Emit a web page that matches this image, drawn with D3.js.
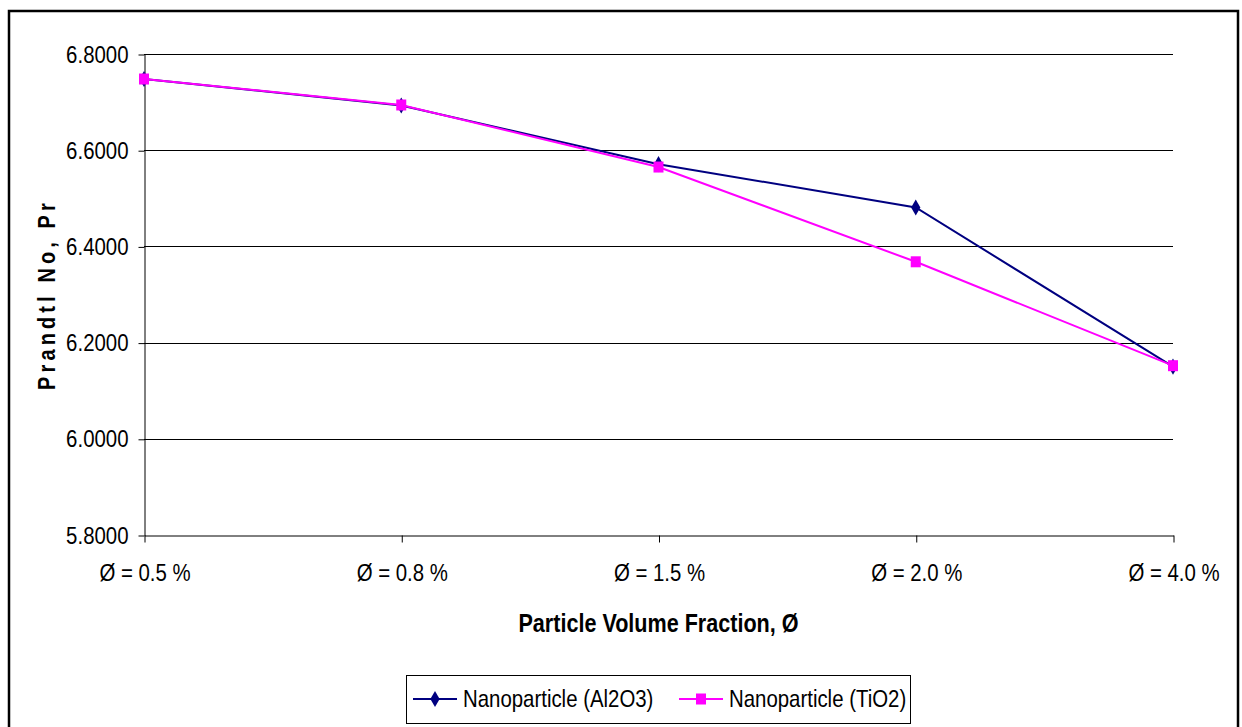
<!DOCTYPE html>
<html>
<head>
<meta charset="utf-8">
<script src="https://cdn.jsdelivr.net/npm/d3@7"></script>
<style>
	body { margin: 0; background: #fff; }
	svg { display: block; }
	text { font-family: "Liberation Sans Narrow", "Arial Narrow", "Liberation Sans", Arial, sans-serif; fill: #000; }
</style>
</head>
<body>
<svg id="chart" width="1242" height="727"></svg>
<script>
// Values
const categories = ["Ø = 0.5 %", "Ø = 0.8 %", "Ø = 1.5 %", "Ø = 2.0 %", "Ø = 4.0 %"];
const al2o3 = [6.748, 6.693, 6.571, 6.481, 6.150];
const tio2 = [6.748, 6.694, 6.565, 6.368, 6.152];
const yTicks = [5.8, 6.0, 6.2, 6.4, 6.6, 6.8];
const seriesNames = ["Nanoparticle (Al2O3)", "Nanoparticle (TiO2)"];

const svg = d3.select("#chart");
const plot = { left: 144, right: 1173, top: 54, bottom: 535 };
// the original uses a narrow face; squeeze the regular one horizontally
const narrow = 0.85;

// squeeze a text selection horizontally while keeping its anchor point
function squeeze(sel, sx) {
	sel.each(function () {
		const t = d3.select(this);
		const x = +t.attr("x") || 0;
		t.attr("x", x / sx)
			.attr("transform", "scale(" + sx + ",1)");
	});
}

// outer chart frame
svg.append("rect")
	.attr("x", 9)
	.attr("y", 11)
	.attr("width", 1229)
	.attr("height", 730)
	.attr("fill", "none")
	.attr("stroke", "#000")
	.attr("stroke-width", 2.5);

const xScale = d3.scalePoint()
	.domain(categories)
	.range([plot.left, plot.right])
	.padding(0);

const yScale = d3.scaleLinear()
	.domain([5.8, 6.8])
	.range([plot.bottom, plot.top]);

// horizontal gridlines
svg.append("g")
	.selectAll("line")
	.data(yTicks.filter(d => d > 5.8))
	.enter()
	.append("line")
	.attr("x1", plot.left)
	.attr("x2", plot.right)
	.attr("y1", d => Math.round(yScale(d)) + 0.5)
	.attr("y2", d => Math.round(yScale(d)) + 0.5)
	.attr("stroke", "#000")
	.attr("stroke-width", 1);

/* Axes */
const yAxis = d3.axisLeft(yScale)
	.tickValues(yTicks)
	.tickSize(6)
	.tickSizeOuter(0)
	.tickPadding(10)
	.tickFormat(d3.format(".4f"));

const yAxisLine = svg.append("g")
	.attr("transform", "translate(" + (plot.left + 0.5) + ",0.5)")
	.call(yAxis);

const xAxis = d3.axisBottom(xScale)
	.tickSize(7)
	.tickSizeOuter(0)
	.tickPadding(21);

const xAxisLine = svg.append("g")
	.attr("transform", "translate(0.5," + (plot.bottom + 0.5) + ")")
	.call(xAxis);

[yAxisLine, xAxisLine].forEach(axis => {
	axis.selectAll("path")
		.attr("stroke", "#000")
		.attr("stroke-width", 1);
	axis.selectAll("line")
		.attr("stroke", "#000");
	axis.selectAll("text")
		.style("font-size", "24px")
		.style("font-family", null)
		.attr("fill", "#000")
		.call(squeeze, narrow);
});

// axis titles
svg.append("text")
	.attr("x", (plot.left + plot.right) / 2 / 0.83)
	.attr("y", 632)
	.attr("transform", "scale(0.83,1)")
	.attr("text-anchor", "middle")
	.style("font-size", "26px")
	.style("font-weight", "bold")
	.text("Particle Volume Fraction, Ø");

svg.append("text")
	.attr("transform", "translate(55," + (plot.top + plot.bottom) / 2 + ") rotate(-90) scale(0.83,1)")
	.attr("text-anchor", "middle")
	.style("font-size", "24px")
	.style("font-weight", "bold")
	.style("letter-spacing", "5px")
	.text("Prandtl No, Pr");

/* Series */
const line = d3.line()
	.x((d, i) => xScale(categories[i]))
	.y(d => yScale(d));

const diamond = d3.symbol().type(d3.symbolDiamond).size(75);

function drawSeries(values, color, marker) {
	svg.append("path")
		.datum(values)
		.attr("d", line)
		.attr("fill", "none")
		.attr("stroke", color)
		.attr("stroke-width", 2);

	const g = svg.append("g");
	if (marker == "diamond") {
		g.selectAll("path")
			.data(values)
			.enter()
			.append("path")
			.attr("d", diamond)
			.attr("transform", (d, i) => "translate(" + xScale(categories[i]) + "," + yScale(d) + ")")
			.attr("fill", color);
	}
	else {
		g.selectAll("rect")
			.data(values)
			.enter()
			.append("rect")
			.attr("x", (d, i) => xScale(categories[i]) - 5)
			.attr("y", d => yScale(d) - 5.5)
			.attr("width", 10)
			.attr("height", 11)
			.attr("fill", color);
	}
}

drawSeries(al2o3, "#000080", "diamond");
drawSeries(tio2, "#FF00FF", "square");

/* Legend */
const legend = svg.append("g");
legend.append("rect")
	.attr("x", 406.5)
	.attr("y", 675.5)
	.attr("width", 504)
	.attr("height", 48)
	.attr("fill", "#fff")
	.attr("stroke", "#000")
	.attr("stroke-width", 1);

const legendItems = [
	{ name: seriesNames[0], color: "#000080", marker: "diamond", x: 413 },
	{ name: seriesNames[1], color: "#FF00FF", marker: "square", x: 679 }
];

legendItems.forEach(item => {
	const cy = 699;
	legend.append("line")
		.attr("x1", item.x)
		.attr("x2", item.x + 44)
		.attr("y1", cy)
		.attr("y2", cy)
		.attr("stroke", item.color)
		.attr("stroke-width", 2);
	if (item.marker == "diamond") {
		legend.append("path")
			.attr("d", diamond)
			.attr("transform", "translate(" + (item.x + 22) + "," + cy + ")")
			.attr("fill", item.color);
	}
	else {
		legend.append("rect")
			.attr("x", item.x + 17)
			.attr("y", cy - 5.5)
			.attr("width", 10)
			.attr("height", 11)
			.attr("fill", item.color);
	}
	legend.append("text")
		.attr("x", item.x + 50)
		.attr("y", cy + 8)
		.style("font-size", "24px")
		.text(item.name)
		.call(squeeze, narrow);
});
</script>
</body>
</html>
